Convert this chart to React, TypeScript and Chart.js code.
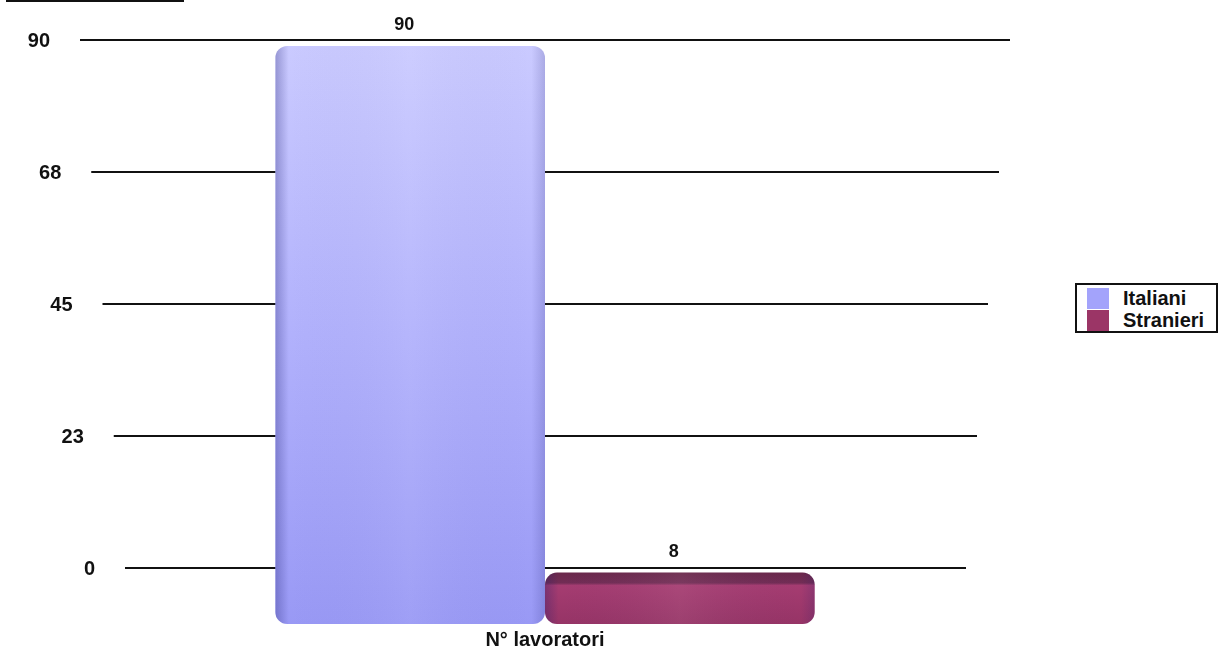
import React, { useEffect, useRef } from "react";
import { Chart, registerables } from "chart.js";

Chart.register(...registerables);

// ---- data ----
const categories = ["N° lavoratori"];
const seriesNames = ["Italiani", "Stranieri"];
const italiani = [90];
const stranieri = [8];
const yTickValues = [0, 22.5, 45, 67.5, 90];
const seriesColors = ["#a3a3fb", "#9b3566"];

const FONT = '"Liberation Sans", Arial, Helvetica, sans-serif';

type Stop = [number, string];
const italianiStops: Stop[] = [
  [0, "#cacaff"],
  [0.5, "#b1b1fc"],
  [1, "#9999f5"],
];
const stranieriStops: Stop[] = [
  [0, "#6a284b"],
  [0.2, "#722d55"],
  [0.25, "#a53c71"],
  [1, "#963466"],
];

function verticalGradient(stops: Stop[]) {
  return (c: any) => {
    const chart = c.chart;
    const area = chart.chartArea;
    const scale = chart.scales && chart.scales.y2;
    if (!area || !scale || typeof c.raw !== "number") return stops[stops.length - 1][1];
    const top = scale.getPixelForValue(c.raw);
    const bottom = scale.getPixelForValue(0);
    if (!isFinite(top) || !isFinite(bottom) || top === bottom) return stops[stops.length - 1][1];
    const g = chart.ctx.createLinearGradient(0, top, 0, bottom);
    stops.forEach(([o, col]) => g.addColorStop(o, col));
    return g;
  };
}

const perspectivePlugin = {
  id: "perspective",
  beforeDatasetsDraw(chart: any) {
    const { ctx, chartArea: area } = chart;
    const y = chart.scales.y;
    const zeroPx = y.getPixelForValue(0);
    const depth = zeroPx - area.top;
    const slopeL = 45 / depth;
    const slopeR = 44 / depth;
    ctx.save();
    ctx.strokeStyle = "#111";
    ctx.lineWidth = 2;
    ctx.fillStyle = "#111";
    ctx.font = `bold 20px ${FONT}`;
    ctx.textAlign = "right";
    ctx.textBaseline = "middle";
    yTickValues.forEach((v) => {
      const py = Math.round(y.getPixelForValue(v));
      const l = area.left + (py - area.top) * slopeL;
      const r = area.right - (py - area.top) * slopeR;
      ctx.beginPath();
      ctx.moveTo(l, py);
      ctx.lineTo(r, py);
      ctx.stroke();
      ctx.fillText(String(Math.round(v)), l - 30, py + 1);
    });
    ctx.restore();
  },
  afterDatasetsDraw(chart: any) {
    const { ctx } = chart;
    ctx.save();
    chart.data.datasets.forEach((ds: any, di: number) => {
      const meta = chart.getDatasetMeta(di);
      meta.data.forEach((el: any, i: number) => {
        const left = el.x - el.width / 2;
        const top = Math.min(el.y, el.base);
        const h = Math.abs(el.base - el.y);
        // edge shading
        ctx.save();
        ctx.beginPath();
        if (ctx.roundRect) ctx.roundRect(left, top, el.width, h, 12);
        else ctx.rect(left, top, el.width, h);
        ctx.clip();
        const g = ctx.createLinearGradient(left, 0, left + el.width, 0);
        g.addColorStop(0, "rgba(30,30,110,0.30)");
        g.addColorStop(0.05, "rgba(30,30,110,0.0)");
        g.addColorStop(0.5, "rgba(255,255,255,0.06)");
        g.addColorStop(0.95, "rgba(30,30,110,0.0)");
        g.addColorStop(1, "rgba(30,30,110,0.18)");
        ctx.fillStyle = g;
        ctx.fillRect(left, top, el.width, h);
        ctx.restore();
        // value label
        ctx.fillStyle = "#111";
        ctx.font = `bold 18px ${FONT}`;
        ctx.textAlign = "center";
        ctx.textBaseline = "middle";
        ctx.fillText(String(ds.data[i]), el.x - 6, el.y - 21);
      });
    });
    // category label
    const x = chart.scales.x;
    ctx.fillStyle = "#111";
    ctx.font = `bold 20px ${FONT}`;
    ctx.textAlign = "center";
    ctx.textBaseline = "middle";
    categories.forEach((c, i) => {
      ctx.fillText(c, x.getPixelForValue(i), 640);
    });
    ctx.restore();
  },
};

export default function App() {
  const ref = useRef<HTMLCanvasElement | null>(null);

  useEffect(() => {
    if (!ref.current) return;
    const chart = new Chart(ref.current, {
      type: "bar",
      data: {
        labels: categories,
        datasets: [
          {
            label: seriesNames[0],
            data: italiani,
            yAxisID: "y2",
            backgroundColor: verticalGradient(italianiStops) as any,
            borderRadius: 12,
            borderSkipped: false,
            categoryPercentage: 0.58,
            barPercentage: 1,
          },
          {
            label: seriesNames[1],
            data: stranieri,
            yAxisID: "y2",
            backgroundColor: verticalGradient(stranieriStops) as any,
            borderRadius: 12,
            borderSkipped: false,
            categoryPercentage: 0.58,
            barPercentage: 1,
          },
        ],
      },
      options: {
        responsive: false,
        maintainAspectRatio: false,
        animation: false,
        layout: { padding: { top: 40, bottom: 28, left: 80, right: 210 } },
        scales: {
          x: { display: false },
          y: { display: false, min: -9.545, max: 90 },
          y2: { display: false, min: 0, max: 90.92 },
        },
        plugins: {
          legend: { display: false },
          tooltip: { enabled: false },
        },
      },
      plugins: [perspectivePlugin],
    });
    return () => chart.destroy();
  }, []);

  return (
    <div
      style={{
        position: "absolute",
        left: 0,
        top: 0,
        width: 1220,
        height: 652,
        background: "#fff",
        overflow: "hidden",
        fontFamily: FONT,
      }}
    >
      <div style={{ position: "absolute", left: 6, top: 0, width: 178, height: 2, background: "#111" }} />
      <canvas ref={ref} width={1220} height={652} style={{ position: "absolute", left: 0, top: 0 }} />
      <div
        style={{
          position: "absolute",
          left: 1075,
          top: 283,
          width: 143,
          height: 50,
          boxSizing: "border-box",
          border: "2px solid #111",
          background: "#fff",
          padding: "2px 0 0 10px",
        }}
      >
        {seriesNames.map((n, i) => (
          <div key={n} style={{ display: "flex", alignItems: "center", height: 22 }}>
            <span style={{ display: "inline-block", width: 22, height: 21, background: seriesColors[i] }} />
            <span style={{ marginLeft: 14, fontWeight: "bold", fontSize: 20, lineHeight: "22px", color: "#111" }}>{n}</span>
          </div>
        ))}
      </div>
    </div>
  );
}
